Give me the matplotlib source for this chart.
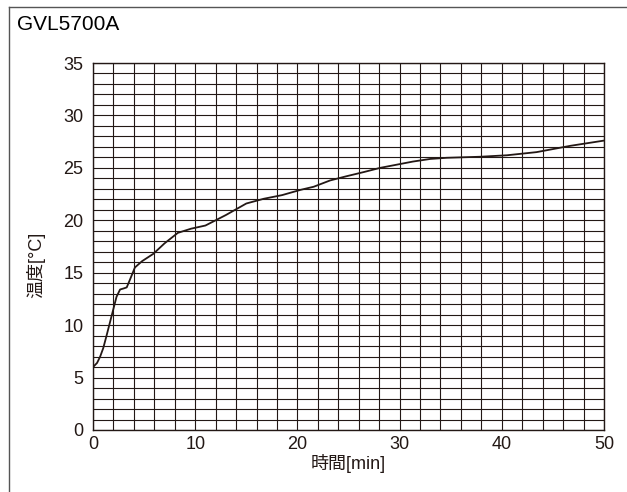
import numpy as np
import matplotlib
matplotlib.use("Agg")
import matplotlib.pyplot as plt
from matplotlib.lines import Line2D

plt.rcParams['font.family'] = ['Liberation Sans', 'Noto Sans CJK JP', 'DejaVu Sans']

# data
time_min = [0, 0.4, 0.7, 1.0, 1.3, 1.8, 2.3, 2.65, 3.0, 3.3, 3.6, 4.1, 4.8, 5.9,
            7.0, 8.3, 9.6, 11.0, 13.0, 15.0, 16.7, 18.5, 20.3, 21.6, 23.2, 24.8,
            26.5, 28.1, 29.7, 31.3, 33.0, 34.6, 37.9, 40.5, 43.4, 46.7, 50]
temp_c = [6.0, 6.4, 7.0, 7.8, 8.9, 10.8, 12.7, 13.4, 13.5, 13.6, 14.3, 15.5,
          16.1, 16.8, 17.8, 18.8, 19.2, 19.5, 20.5, 21.6, 22.05, 22.4, 22.9,
          23.2, 23.8, 24.2, 24.6, 25.0, 25.3, 25.6, 25.85, 25.96, 26.06, 26.2,
          26.5, 27.1, 27.6]
xticks = [0, 10, 20, 30, 40, 50]
yticks = [0, 5, 10, 15, 20, 25, 30, 35]
title = "GVL5700A"
xlabel = "時間[min]"
ylabel = "温度[°C]"

ink = '#231815'
W, H = 627, 492

fig = plt.figure(figsize=(W / 100, H / 100), dpi=100)
ax = fig.add_axes([93 / W, 1 - 430 / H, (604 - 93) / W, (430 - 63) / H])

# outer frame (left and top only)
fig.add_artist(Line2D([9 / W, 9 / W], [0, 1 - 7 / H], transform=fig.transFigure,
                      color='#555555', lw=1.0))
fig.add_artist(Line2D([9 / W, 1], [1 - 7 / H, 1 - 7 / H], transform=fig.transFigure,
                      color='#555555', lw=1.0))

ax.set_xlim(0, 50)
ax.set_ylim(0, 35)
ax.set_xticks(xticks)
ax.set_yticks(yticks)
ax.set_xticks(np.arange(0, 51, 2), minor=True)
ax.set_yticks(np.arange(0, 36, 1), minor=True)
ax.grid(which='both', color=ink, lw=0.8)
ax.set_axisbelow(True)
ax.tick_params(which='both', length=0, labelsize=13, colors=ink)
ax.tick_params(axis='x', pad=4)
ax.tick_params(axis='y', pad=7)
for s in ax.spines.values():
    s.set_color(ink)
    s.set_linewidth(1.0)

ax.plot(time_min, temp_c, color=ink, lw=1.3, solid_joinstyle='round')

ax.set_xlabel(xlabel, fontsize=13, color=ink)
ax.set_ylabel(ylabel, fontsize=13, color=ink)
ax.xaxis.set_label_coords(0.5, -0.065)
ax.yaxis.set_label_coords(-0.094, 0.45)

fig.text(17 / W, 1 - 15 / H, title, fontsize=15, va='top', ha='left', color='black')

fig.savefig('out.png', dpi=100)
